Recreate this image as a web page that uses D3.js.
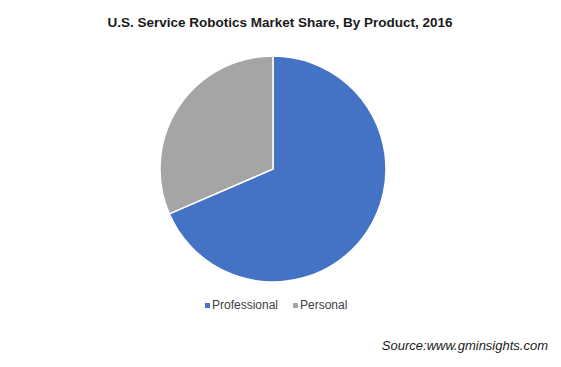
<!DOCTYPE html>
<html>
<head>
<meta charset="utf-8">
<script src="https://cdn.jsdelivr.net/npm/d3@7"></script>
<style>
  body { margin: 0; background: #fff; }
  text { font-family: "Liberation Sans", Arial, sans-serif; }
</style>
</head>
<body>
<div id="chart"></div>
<script>
// chart values
var categories = ["Professional", "Personal"];
var shares = [68.5, 31.5];
var colors = ["#4472C4", "#A5A5A5"];

var svgWidth = 561;
var svgHeight = 367;

var svg = d3.select("#chart")
  .append("svg")
  .attr("width", svgWidth)
  .attr("height", svgHeight);

// title
svg.append("text")
  .attr("x", 280)
  .attr("y", 27)
  .attr("text-anchor", "middle")
  .attr("font-size", "13.5px")
  .attr("font-weight", "bold")
  .attr("fill", "#1a1a1a")
  .text("U.S. Service Robotics Market Share, By Product, 2016");

// pie
var radius = 113;
var pieGroup = svg.append("g")
  .attr("transform", "translate(273, 169)");

var pie = d3.pie().sort(null).value(d => d);
var arc = d3.arc().innerRadius(0).outerRadius(radius);

pieGroup.selectAll("path")
  .data(pie(shares))
  .enter()
  .append("path")
  .attr("d", arc)
  .attr("fill", (d, i) => colors[i])
  .attr("stroke", "#fff")
  .attr("stroke-width", 1.5);

// legend
var legendX = [205, 293];
var legend = svg.selectAll(".legend")
  .data(categories)
  .enter()
  .append("g")
  .attr("class", "legend")
  .attr("transform", (d, i) => `translate(${legendX[i]}, 309)`);

legend.append("rect")
  .attr("x", 0)
  .attr("y", -6)
  .attr("width", 5)
  .attr("height", 5)
  .attr("fill", (d, i) => colors[i]);

legend.append("text")
  .attr("x", 7)
  .attr("y", 0)
  .attr("font-size", "12px")
  .attr("fill", "#404040")
  .text(d => d);

// source
svg.append("text")
  .attr("x", 548)
  .attr("y", 350)
  .attr("text-anchor", "end")
  .attr("font-size", "13px")
  .attr("font-style", "italic")
  .attr("fill", "#1a1a1a")
  .text("Source:www.gminsights.com");
</script>
</body>
</html>
